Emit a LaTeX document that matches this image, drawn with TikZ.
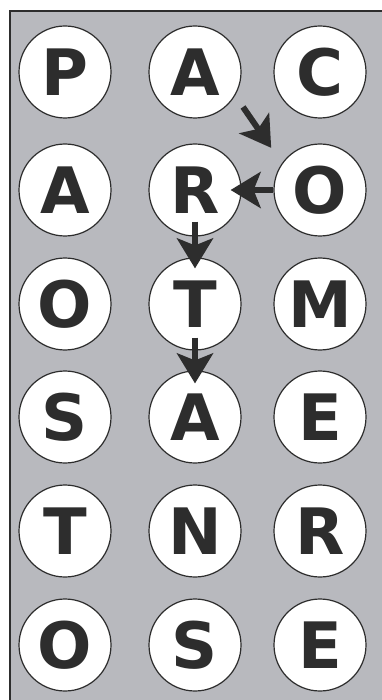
\documentclass[tikz,border=0pt]{standalone}
\usepackage{fontspec}
\usepackage{xcolor}
\usepackage{tikz}
\usetikzlibrary{positioning,arrows.meta}
\newfontfamily\lettfont{DejaVu Sans}
\definecolor{panelclr}{RGB}{184,185,190}
\definecolor{inkclr}{RGB}{45,45,45}
\tikzset{
  tile/.style={circle,draw=inkclr,line width=1.2pt,fill=white,
               minimum size=92pt,inner sep=0pt,text=inkclr,
               font=\lettfont\bfseries\fontsize{64}{64}\selectfont},
  edge/.style={-{Stealth[length=30pt,width=36pt,inset=7pt]},
               line width=6pt,draw=inkclr},
  frame/.style={draw=inkclr,line width=2.5pt},
}

\begin{document}
\begin{tikzpicture}[x=1pt,y=-1pt]
\useasboundingbox (0,0) rectangle (382,700);
% panel
\fill[panelclr] (10,11) rectangle (392,712);
\draw[frame] (10,712) |- (392,11);
% letter grid
\node[tile] (p)  at (65,72)  {P};
\node[tile] (a1) at (195,72) {A};
\node[tile] (c)  at (320,72) {C};
\node[tile] (a2) at (65,190)  {A};
\node[tile] (r1) at (195,190) {R};
\node[tile] (o1) at (320,190) {O};
\node[tile] (o2) at (65,304)  {O};
\node[tile] (t1) at (195,304) {T};
\node[tile] (m)  at (320,304) {M};
\node[tile] (s1) at (65,417)  {S};
\node[tile] (a3) at (195,417) {A};
\node[tile] (e1) at (320,417) {E};
\node[tile] (t2) at (65,531)  {T};
\node[tile] (n)  at (195,531) {N};
\node[tile] (r2) at (320,531) {R};
\node[tile] (o3) at (65,645)  {O};
\node[tile] (s2) at (195,645) {S};
\node[tile] (e2) at (320,645) {E};
% path through the word
\coordinate (start) at (243,107);
\draw[edge, shorten >=18.7pt] (start) -- (o1.145);
\draw[edge, shorten >=-11pt] (o1) -- (r1);
\draw[edge, shorten <=-15pt, shorten >=-11pt] (r1) -- (t1);
\draw[edge, shorten <=-13pt, shorten >=-13pt] (t1) -- (a3);
\end{tikzpicture}
\end{document}
